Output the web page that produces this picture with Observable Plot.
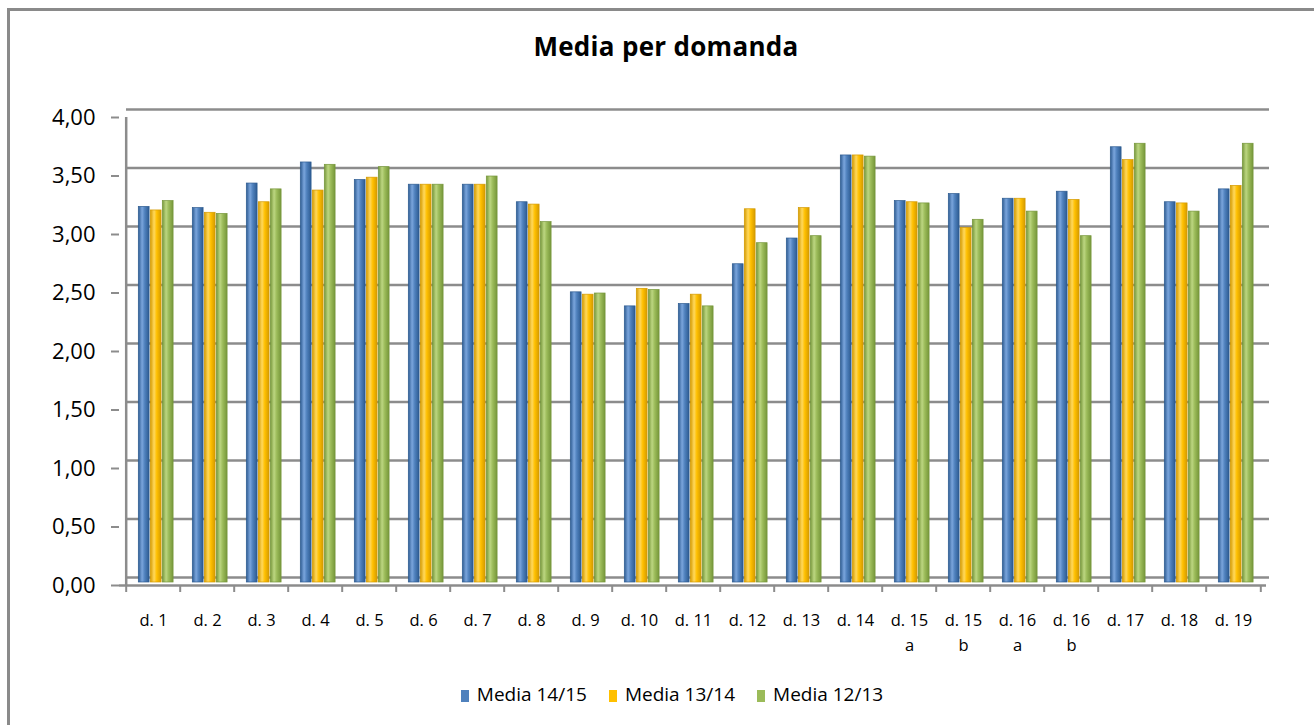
<!DOCTYPE html>
<html><head><meta charset="utf-8">
<script src="https://cdn.jsdelivr.net/npm/d3@7"></script>
<script src="https://cdn.jsdelivr.net/npm/@observablehq/plot@0.6"></script>
<style>
html,body{margin:0;padding:0;background:#fff;overflow:hidden;width:1314px;height:725px;font-family:"Open Sans",sans-serif;}
#frame{position:absolute;left:7px;top:8px;width:1400px;height:800px;border:3px solid #8a8a8a;border-right:none;border-bottom:none;}
#title{position:absolute;left:0;width:1332px;top:28px;text-align:center;font-weight:700;font-size:26px;color:#000;letter-spacing:0.3px;}
#chart{position:absolute;left:0;top:0;}
#legend{position:absolute;left:0;width:1344px;top:681px;text-align:center;font-size:19px;color:#000;}
#legend span.item{display:inline-block;margin:0 11px;}
#legend span.sw{display:inline-block;width:8px;height:12px;margin-right:8px;vertical-align:-1px;}
</style>
</head><body>
<svg width="0" height="0" style="position:absolute"><defs id="gdefs"></defs></svg>
<div id="frame"></div>
<div id="title">Media per domanda</div>
<div id="chart"></div>
<div id="legend"></div>
<script>
const categories = ["d. 1","d. 2","d. 3","d. 4","d. 5","d. 6","d. 7","d. 8","d. 9","d. 10","d. 11","d. 12","d. 13","d. 14","d. 15\na","d. 15\nb","d. 16\na","d. 16\nb","d. 17","d. 18","d. 19"];
const media1415 = [3.21,3.20,3.41,3.59,3.44,3.40,3.40,3.25,2.48,2.36,2.38,2.72,2.94,3.65,3.26,3.32,3.28,3.34,3.72,3.25,3.36];
const media1314 = [3.18,3.16,3.25,3.35,3.46,3.40,3.40,3.23,2.46,2.51,2.46,3.19,3.20,3.65,3.25,3.03,3.28,3.27,3.61,3.24,3.39];
const media1213 = [3.26,3.15,3.36,3.57,3.55,3.40,3.47,3.08,2.47,2.50,2.36,2.90,2.96,3.64,3.24,3.10,3.17,2.96,3.75,3.17,3.75];
const seriesNames = ["Media 14/15","Media 13/14","Media 12/13"];
const seriesColors = ["#4F81BD","#FFC000","#9BBB59"];
const seriesDark = ["#2d5b91","#d49a00","#76963a"];
const seriesLight = ["#7aa5dc","#ffd85c","#bcd681"];
const yTicks = [0,0.5,1,1.5,2,2.5,3,3.5,4];

// gradients for cylinder look
const defs = document.getElementById("gdefs");
seriesColors.forEach((c,i)=>{
  const g = document.createElementNS("http://www.w3.org/2000/svg","linearGradient");
  g.setAttribute("id","grad"+i); g.setAttribute("x1","0"); g.setAttribute("x2","1"); g.setAttribute("y1","0"); g.setAttribute("y2","0");
  [[0,seriesDark[i]],[0.35,seriesLight[i]],[0.6,c],[1,seriesDark[i]]].forEach(([o,col])=>{
    const s = document.createElementNS("http://www.w3.org/2000/svg","stop");
    s.setAttribute("offset",o); s.setAttribute("stop-color",col); g.appendChild(s);
  });
  defs.appendChild(g);
});

const table = categories.map((c,i)=>({cat:c, s0:media1415[i], s1:media1314[i], s2:media1213[i]}));

const W = 1314, H = 680, mL = 119, mR = 48, mT = 117, mB = 95;
const bw = (W - mL - mR) / categories.length;
const barW = 12, groupW = 3*barW;
const grid = "#8c8c8c";

const bars = [0,1,2].map(i=>{
  const insetLeft = (bw - groupW)/2 + i*barW;
  const insetRight = bw - insetLeft - barW + 0.6;
  return Plot.barY(table, {x:"cat", y:"s"+i, fill:"url(#grad"+i+")", stroke:seriesDark[i], strokeWidth:0.7, insetLeft, insetRight, dx:3, dy:-3});
});

const fmt = d => d.toFixed(2).replace(".", ",");

const chart = Plot.plot({
  width: W, height: H,
  marginLeft: mL, marginRight: mR, marginTop: mT, marginBottom: mB,
  style: {background:"transparent", fontFamily:"Open Sans", color:"#000", overflow:"visible"},
  x: {domain: categories, padding: 0, label: null},
  y: {domain: [0,4], label: null},
  marks: [
    Plot.ruleY(yTicks, {y: d=>d, dy:-8, insetLeft:7, insetRight:-3, stroke:grid, strokeWidth:2.5}),
    Plot.ruleY([0], {y: d=>d, stroke:grid, strokeWidth:2.5}),
    Plot.ruleX([categories[0]], {x: d=>d, dx: -bw/2, y1: 0, y2: 4, stroke:grid, strokeWidth:2.5}),
    Plot.ruleX(categories, {x: d=>d, dx: -bw/2, y1: 0, y2: -0.06, stroke:grid, strokeWidth:2}),
    Plot.ruleX([categories[categories.length-1]], {x: d=>d, dx: bw/2, y1: 0, y2: -0.06, stroke:grid, strokeWidth:2}),
    ...bars,
    Plot.axisY({ticks: yTicks, tickFormat: fmt, tickSize: 8, tickPadding: 16, fontSize: 22, stroke: grid, strokeWidth: 2, label: null}),
    Plot.axisX({tickSize: 0, tickPadding: 22, fontSize: 16.5, lineHeight: 1.55, label: null})
  ]
});
document.getElementById("chart").appendChild(chart);

const legend = document.getElementById("legend");
seriesNames.forEach((n,i)=>{
  const it = document.createElement("span"); it.className = "item";
  const sw = document.createElement("span"); sw.className = "sw"; sw.style.background = seriesColors[i];
  it.appendChild(sw); it.appendChild(document.createTextNode(n));
  legend.appendChild(it);
});
</script>
</body></html>
